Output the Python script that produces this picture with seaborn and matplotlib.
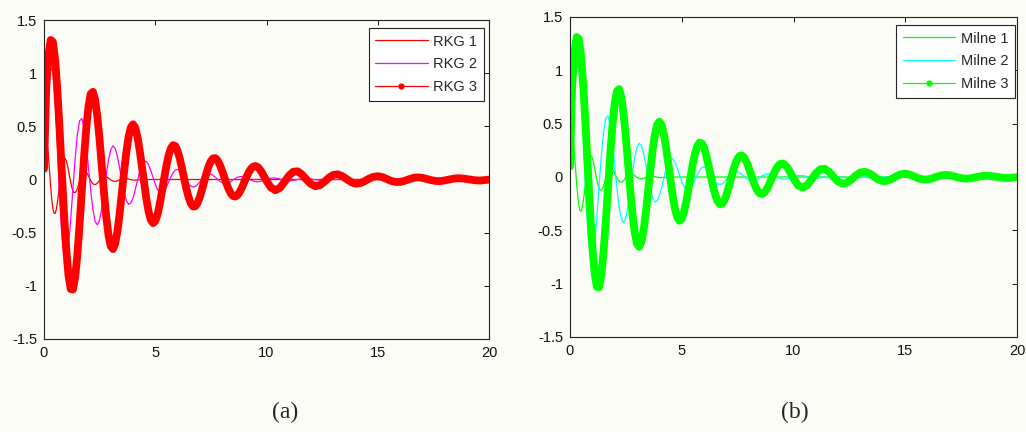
import numpy as np
import matplotlib
matplotlib.use("Agg")
import matplotlib.pyplot as plt
from matplotlib.lines import Line2D
from matplotlib.ticker import FuncFormatter
import seaborn as sns

# ---- solution 1: fast, strongly damped oscillation ----
t1 = list(np.round(np.arange(0.0, 3.001, 0.05), 2)) + \
     list(np.round(np.arange(3.1, 4.001, 0.1), 1)) + [4.5, 20.0]
y1 = [0.10, 0.30, 0.37, 0.34, 0.22, 0.072, -0.069, -0.188, -0.273, -0.317,
      -0.320, -0.285, -0.220, -0.136, -0.045, 0.043, 0.116, 0.169, 0.197, 0.198,
      0.177, 0.137, 0.085, 0.028, -0.026, -0.072, -0.105, -0.122, -0.123, -0.110,
      -0.085, -0.052, -0.017, 0.016, 0.045, 0.065, 0.076, 0.076, 0.068, 0.053,
      0.033, 0.011, -0.010, -0.028, -0.040, -0.047, -0.047, -0.042, -0.033, -0.020,
      -0.007, 0.006, 0.017, 0.025, 0.029, 0.029, 0.026, 0.020, 0.013, 0.004,
      -0.004,
      -0.015, -0.018, -0.013, -0.003, 0.007, 0.011, 0.010, 0.005, -0.002, -0.006,
      0.0, 0.0]

# ---- solution 2: medium frequency ----
t2 = [0.0, 0.05, 0.1, 0.15, 0.2, 0.25] + \
     list(np.round(np.arange(0.3, 10.001, 0.1), 1)) + \
     list(np.round(np.arange(10.2, 12.801, 0.2), 1)) + [13.0, 20.0]
y2 = [0.10, 0.35, 0.60, 0.80, 0.93, 1.01,
      1.045, 1.02, 0.76, 0.33, -0.15, -0.52, -0.73, -0.762, -0.621, -0.379,
      -0.088, 0.195, 0.421, 0.552, 0.573, 0.488, 0.321, 0.109, -0.105, -0.283,
      -0.396, -0.427, -0.379, -0.266, -0.114, 0.047, 0.187, 0.281, 0.317, 0.292,
      0.217, 0.108, -0.012, -0.120, -0.197, -0.233, -0.223, -0.174, -0.097, -0.009,
      0.074, 0.137, 0.170, 0.169, 0.138, 0.084, 0.020, -0.043, -0.094, -0.123,
      -0.127, -0.108, -0.071, -0.024, 0.023, 0.063, 0.088, 0.095, 0.084, 0.059,
      0.025, -0.011, -0.041, -0.062, -0.070, -0.065, -0.048, -0.024, 0.003, 0.027,
      0.044, 0.052, 0.050, 0.039, 0.022, 0.002, -0.016, -0.030, -0.038, -0.038,
      -0.031, -0.019, -0.004, 0.010, 0.021, 0.027, 0.028, 0.024, 0.016, 0.005,
      -0.005, -0.014, -0.020, -0.021, -0.019, -0.013, -0.006, 0.002,
      0.014, 0.014, 0.005, -0.006, -0.012, -0.009, 0.000, 0.007, 0.008, 0.004,
      -0.002, -0.006, -0.004, 0.000,
      0.0, 0.0]

# ---- solution 3: slow, lightly damped oscillation ----
t3 = list(np.round(np.arange(0.0, 10.001, 0.1), 1)) + \
     list(np.round(np.arange(10.2, 20.001, 0.2), 1))
y3 = [0.10, 0.86, 1.173, 1.312, 1.294, 1.129, 0.843, 0.475, 0.071, -0.321,
      -0.657, -0.901, -1.030, -1.034, -0.920, -0.706, -0.422, -0.104, 0.210, 0.484,
      0.689, 0.806, 0.824, 0.747, 0.588, 0.370, 0.120, -0.130, -0.354, -0.525,
      -0.628, -0.654, -0.604, -0.487, -0.321, -0.125, 0.074, 0.256, 0.399, 0.489,
      0.519, 0.488, 0.402, 0.275, 0.123, -0.036, -0.182, -0.301, -0.379, -0.410,
      -0.392, -0.331, -0.234, -0.116, 0.010, 0.128, 0.226, 0.293, 0.323, 0.315,
      0.271, 0.198, 0.107, 0.007, -0.088, -0.168, -0.226, -0.254, -0.252, -0.221,
      -0.167, -0.096, -0.017, 0.059, 0.125, 0.173, 0.199, 0.201, 0.180, 0.139,
      0.085, 0.023, -0.038, -0.092, -0.132, -0.156, -0.160, -0.146, -0.116, -0.074,
      -0.026, 0.023, 0.067, 0.101, 0.121, 0.127, 0.118, 0.096, 0.064, 0.026,
      -0.013,
      -0.076, -0.101, -0.079, -0.025, 0.034, 0.073, 0.077, 0.046, -0.001, -0.043,
      -0.063, -0.053, -0.022, 0.016, 0.043, 0.049, 0.033, 0.004, -0.024, -0.039,
      -0.035, -0.017, 0.007, 0.025, 0.031, 0.023, 0.005, -0.013, -0.023, -0.023,
      -0.013, 0.002, 0.015, 0.020, 0.016, 0.005, -0.006, -0.014, -0.015, -0.009,
      0.000, 0.008, 0.012, 0.010, 0.004, -0.003, -0.008, -0.010, -0.006, -0.001]

labels_a = ["RKG 1", "RKG 2", "RKG 3"]
labels_b = ["Milne 1", "Milne 2", "Milne 3"]
colors_a = ["#ff0000", "#ff00ff", "#ff0000"]
colors_b = ["#00ff00", "#00ffff", "#00ff00"]

x_ticks = [0, 5, 10, 15, 20]
y_ticks = [-1.5, -1, -0.5, 0, 0.5, 1, 1.5]

paper = "#fcfcf6"

sns.set_theme(style="white")
plt.rcParams["font.family"] = ["Liberation Sans", "DejaVu Sans"]

fig = plt.figure(figsize=(10.26, 4.32), dpi=100, facecolor=paper)
ax_a = fig.add_axes([44 / 1026, 1 - 339 / 432, 445 / 1026, 319 / 432])
ax_b = fig.add_axes([570 / 1026, 1 - 337 / 432, 447 / 1026, 320 / 432])


def draw_panel(ax, labels, colors, legend_anchor):
    ax.set_facecolor(paper)
    sns.lineplot(x=t1, y=y1, ax=ax, color=colors[0], lw=0.9,
                 estimator=None, sort=False)
    sns.lineplot(x=t2, y=y2, ax=ax, color=colors[1], lw=0.9,
                 estimator=None, sort=False)
    sns.lineplot(x=t3, y=y3, ax=ax, color=colors[2], lw=5.6,
                 estimator=None, sort=False,
                 solid_capstyle="round", solid_joinstyle="round")
    ax.set_xlim(0, 20)
    ax.set_ylim(-1.5, 1.5)
    ax.set_xticks(x_ticks)
    ax.set_yticks(y_ticks)
    ax.xaxis.set_major_formatter(FuncFormatter(lambda v, p: f"{v:g}"))
    ax.yaxis.set_major_formatter(FuncFormatter(lambda v, p: f"{v:g}"))
    ax.set_xlabel("")
    ax.set_ylabel("")
    ax.tick_params(direction="in", top=True, right=True, length=3.5,
                   width=0.7, labelsize=10.5, colors="#111111", pad=5)
    for s in ax.spines.values():
        s.set_color("#222222")
        s.set_linewidth(0.8)
    handles = [
        Line2D([], [], color=colors[0], lw=0.9),
        Line2D([], [], color=colors[1], lw=0.9),
        Line2D([], [], color=colors[2], lw=0.9, marker=".", markersize=7),
    ]
    leg = ax.legend(handles, labels, loc="upper right",
                    bbox_to_anchor=legend_anchor, borderaxespad=0,
                    frameon=True, fancybox=False, framealpha=1,
                    facecolor="white", edgecolor="#222222",
                    fontsize=10.5, handlelength=3.6, handletextpad=0.4,
                    labelspacing=0.6, borderpad=0.45)
    leg.get_frame().set_linewidth(0.8)


draw_panel(ax_a, labels_a, colors_a, (1 - 5 / 445, 1 - 8 / 319))
draw_panel(ax_b, labels_b, colors_b, (1 - 2 / 447, 1 - 8 / 320))

fig.text(285 / 1026, 1 - 412 / 432, "(a)", ha="center", va="center",
         family=["Liberation Serif", "DejaVu Serif"], fontsize=17)
fig.text(795 / 1026, 1 - 412 / 432, "(b)", ha="center", va="center",
         family=["Liberation Serif", "DejaVu Serif"], fontsize=17)

fig.savefig("out.png", dpi=100, facecolor=paper)
